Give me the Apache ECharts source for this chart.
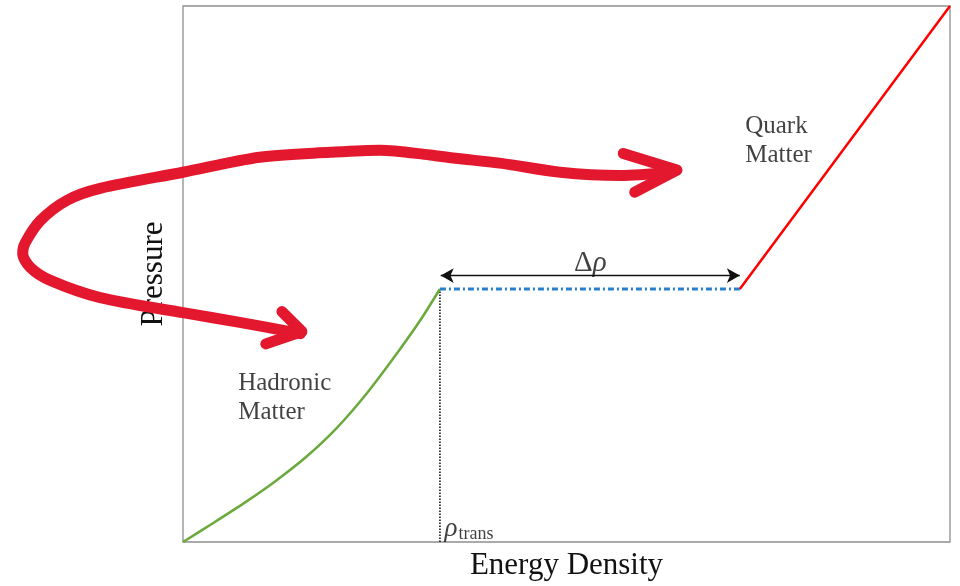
<!DOCTYPE html>
<html>
<head>
<meta charset="utf-8">
<script src="https://cdn.jsdelivr.net/npm/echarts@6/dist/echarts.min.js"></script>
<style>html,body{margin:0;padding:0;background:#fff;}#c{width:960px;height:586px;}</style>
</head>
<body>
<div id="c"></div>
<script>
// ---- data (energy density, pressure) in arbitrary units ----
const xRange = [0, 10];
const yRange = [0, 10];
const hadronicCurve = [[0,0],[0.4,0.36],[0.8,0.73],[1.2,1.13],[1.6,1.58],[2.0,2.12],[2.4,2.78],[2.8,3.54],[3.1,4.15],[3.35,4.72]];
const mixedPhase = [[3.35,4.72],[7.26,4.72]];
const quarkLine = [[7.26,4.72],[10,10]];
const transitionDrop = [[3.35,0],[3.35,4.72]];
const deltaArrow = [[3.36,4.97],[7.26,4.97]];
// hand-drawn overlay stroke (same data units, extends left of the plot frame)
const handStroke = [[6.35,6.91],[5.70,6.85],[4.92,6.91],[4.13,7.08],[3.55,7.17],[3.22,7.23],[2.57,7.32],[1.92,7.28],[1.00,7.19],[0,6.91],[-1.08,6.61],[-1.51,6.39],[-1.86,6.01],[-2.06,5.59],[-2.09,5.40],[-1.99,5.14],[-1.73,4.90],[-1.08,4.58],[0,4.30],[0.74,4.12],[1.53,3.91]];
const handHeadTop = [[5.74,7.26],[6.44,6.95],[5.89,6.54]];
const handHeadBottom = [[1.29,4.32],[1.55,3.95],[1.08,3.72]];
// text labels
const labelItems = [
  {value:[0.72,3.22], text:'Hadronic\nMatter'},
  {value:[7.33,8.03], text:'Quark\nMatter'}
];
const deltaLabelPos = [5.31, 5.19];
const transLabelPos = [3.41, 0.24];

const FONT = '"Liberation Serif", "DejaVu Serif", serif';
const G = {left: 183, right: 10, top: 6, bottom: 42};
const plotW = 960 - G.left - G.right;
const overlayMin = xRange[0] - G.left * (xRange[1] - xRange[0]) / plotW;
const chart = echarts.init(document.getElementById('c'));
const RED = '#e3172d';
const TXT = '#111';
const hidden = {axisLine: {show: false}, axisTick: {show: false}, axisLabel: {show: false}, splitLine: {show: false}};

chart.setOption({
  animation: false,
  backgroundColor: '#fff',
  grid: [
    Object.assign({show: true, borderColor: '#8f8f8f', borderWidth: 1.3, backgroundColor: 'transparent'}, G),
    {left: 0, right: G.right, top: G.top, bottom: G.bottom, show: false}
  ],
  xAxis: [
    Object.assign({type: 'value', min: xRange[0], max: xRange[1], gridIndex: 0,
      name: 'Energy Density', nameLocation: 'middle', nameGap: 8,
      nameTextStyle: {fontFamily: FONT, fontSize: 31, color: TXT}}, hidden),
    Object.assign({type: 'value', min: overlayMin, max: xRange[1], gridIndex: 1}, hidden)
  ],
  yAxis: [
    Object.assign({type: 'value', min: yRange[0], max: yRange[1], gridIndex: 0,
      name: 'Pressure', nameLocation: 'middle', nameGap: 14,
      nameTextStyle: {fontFamily: FONT, fontSize: 31, color: TXT}}, hidden),
    Object.assign({type: 'value', min: yRange[0], max: yRange[1], gridIndex: 1}, hidden)
  ],
  series: [
    {type: 'line', data: hadronicCurve, smooth: 0.25, showSymbol: false, lineStyle: {color: '#6aa93c', width: 2.5}, z: 3},
    {type: 'line', data: transitionDrop, showSymbol: false, lineStyle: {color: '#111', width: 1.6, type: [1.5, 1.5]}, z: 2},
    {type: 'line', data: mixedPhase, showSymbol: false, lineStyle: {color: '#2a7fcc', width: 3, type: [6, 3, 2, 3]}, z: 3,
      markLine: {
        silent: true, symbol: ['arrow', 'arrow'], symbolSize: [11, 13],
        lineStyle: {color: '#111', width: 1.3, type: 'solid'}, label: {show: false},
        data: [[{coord: deltaArrow[0]}, {coord: deltaArrow[1]}]]
      }
    },
    {type: 'line', data: quarkLine, showSymbol: false, lineStyle: {color: '#ff0000', width: 2.5}, z: 3},
    {type: 'scatter', data: labelItems.map(d => ({value: d.value, label: {formatter: d.text}})), symbolSize: 0,
      label: {show: true, position: [0, 0], align: 'left', verticalAlign: 'top', fontFamily: FONT, fontSize: 25, lineHeight: 29, color: TXT}, z: 4},
    {type: 'scatter', data: [deltaLabelPos], symbolSize: 0,
      label: {show: true, position: [0, 0], align: 'center', verticalAlign: 'middle', formatter: 'Δ{i|ρ}', fontFamily: FONT, fontSize: 29, color: TXT,
        rich: {i: {fontFamily: FONT, fontSize: 29, fontStyle: 'italic', color: TXT}}}, z: 4},
    {type: 'scatter', data: [transLabelPos], symbolSize: 0,
      label: {show: true, position: [0, 0], align: 'left', verticalAlign: 'middle', formatter: '{r|ρ}{s|trans}', color: TXT,
        rich: {r: {fontFamily: FONT, fontSize: 27, fontStyle: 'italic', color: TXT}, s: {fontFamily: FONT, fontSize: 18, color: TXT, padding: [10, 0, 0, 1]}}}, z: 4},
    {type: 'line', xAxisIndex: 1, yAxisIndex: 1, data: handStroke, smooth: 0.3, showSymbol: false, clip: false, lineStyle: {color: RED, width: 11, cap: 'round', join: 'round'}, z: 10},
    {type: 'line', xAxisIndex: 1, yAxisIndex: 1, data: handHeadTop, showSymbol: false, clip: false, lineStyle: {color: RED, width: 11, cap: 'round', join: 'round'}, z: 10},
    {type: 'line', xAxisIndex: 1, yAxisIndex: 1, data: handHeadBottom, showSymbol: false, clip: false, lineStyle: {color: RED, width: 11, cap: 'round', join: 'round'}, z: 10}
  ]
});
</script>
</body>
</html>
